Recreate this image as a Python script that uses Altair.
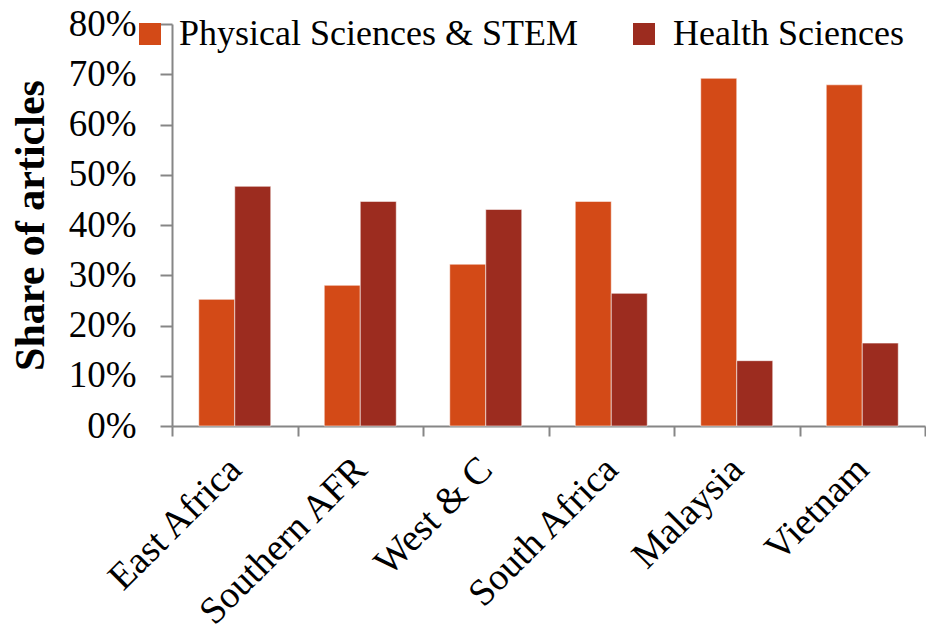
import altair as alt
import pandas as pd

regions = ["East Africa", "Southern AFR", "West & C", "South Africa", "Malaysia", "Vietnam"]
series = ["Physical Sciences & STEM", "Health Sciences"]
stem = [0.252, 0.280, 0.322, 0.447, 0.692, 0.679]
health = [0.477, 0.447, 0.431, 0.264, 0.130, 0.165]
colors = ["#D34A17", "#9C2C1F"]
y_ticks = [0, 0.1, 0.2, 0.3, 0.4, 0.5, 0.6, 0.7, 0.8]

rows = []
for i, r in enumerate(regions):
    rows.append({"region": r, "series": series[0], "value": stem[i]})
    rows.append({"region": r, "series": series[1], "value": health[i]})
df = pd.DataFrame(rows)

FONT = "Liberation Serif"
AXIS_COLOR = "#868686"

bars = alt.Chart(df).mark_bar(
    stroke="white", strokeWidth=1, strokeOpacity=0.55
).encode(
    x=alt.X(
        "region:N",
        sort=regions,
        scale=alt.Scale(paddingInner=0, paddingOuter=0),
        axis=alt.Axis(
            title=None,
            labelAngle=315,
            labelFont=FONT,
            labelFontSize=38,
            labelColor="black",
            labelPadding=14,
            labelOffset=-13,
            tickBand="extent",
            tickSize=10,
            tickWidth=2,
            tickColor=AXIS_COLOR,
            domainColor=AXIS_COLOR,
            domainWidth=2,
            labelLimit=400,
        ),
    ),
    xOffset=alt.XOffset("series:N", sort=series,
                        scale=alt.Scale(paddingInner=0, paddingOuter=0.743)),
    y=alt.Y(
        "value:Q",
        scale=alt.Scale(domain=[0, 0.8], nice=False),
        axis=alt.Axis(
            title="Share of articles",
            titleFont=FONT,
            titleFontSize=42,
            titleFontWeight="bold",
            titleColor="black",
            titlePadding=16,
            values=y_ticks,
            format=".0%",
            labelFont=FONT,
            labelFontSize=37,
            labelColor="black",
            labelPadding=24,
            tickSize=12,
            tickWidth=2,
            tickColor=AXIS_COLOR,
            domainColor=AXIS_COLOR,
            domainWidth=2,
            grid=False,
        ),
    ),
    color=alt.Color(
        "series:N",
        sort=series,
        scale=alt.Scale(domain=series, range=colors),
        legend=alt.Legend(
            title=None,
            orient="none",
            direction="horizontal",
            legendX=-40,
            legendY=-8,
            symbolType="square",
            symbolSize=484,
            symbolStrokeWidth=0,
            labelFont=FONT,
            labelFontSize=36,
            labelColor="black",
            labelOffset=11,
            labelLimit=600,
            columnPadding=48,
            padding=0,
        ),
    ),
)

chart = bars.properties(
    width=753,
    height=402,
    autosize=alt.AutoSizeParams(type="none"),
    padding={"left": 164, "top": 16, "right": 1, "bottom": 199},
    background="white",
).configure_view(stroke=None)

chart.save("out.html", embed_options={"renderer": "svg", "actions": False})
